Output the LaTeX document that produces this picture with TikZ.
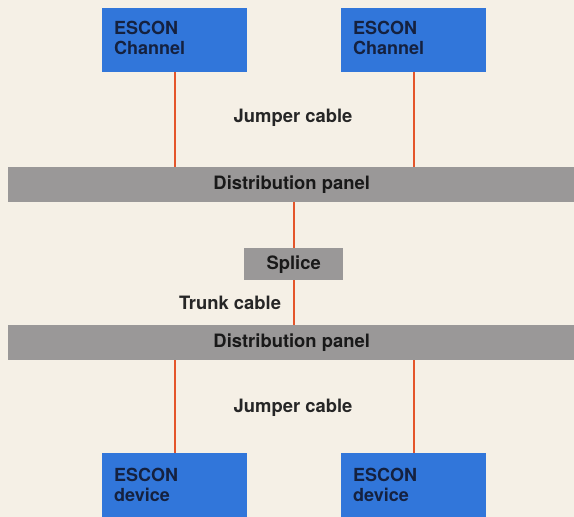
\documentclass[tikz,border=0pt]{standalone}
\usepackage{fontspec}
\setmainfont{TeX Gyre Heros}
\definecolor{bg}{HTML}{F5F0E6}
\definecolor{boxblue}{HTML}{3176DA}
\definecolor{panelgray}{HTML}{9A9898}
\definecolor{cablered}{HTML}{E4552B}
\definecolor{navy}{HTML}{15213F}
\tikzset{
  escon/.style={fill=boxblue, draw=none, anchor=north west, minimum width=145pt, minimum height=64pt, inner sep=0pt},
  esconlabel/.style={anchor=north west, inner sep=0pt, align=left, text=navy, font=\fontsize{18}{19.5}\selectfont\bfseries},
  panel/.style={fill=panelgray, draw=none, anchor=north west, minimum width=567pt, minimum height=35pt, inner sep=0pt, font=\fontsize{18.4}{20}\selectfont\bfseries, text=black!90},
  splicebox/.style={fill=panelgray, draw=none, anchor=north west, minimum width=99pt, minimum height=32pt, inner sep=0pt, font=\fontsize{18.4}{20}\selectfont\bfseries, text=black!90},
  cablelabel/.style={inner sep=0pt, font=\fontsize{18.4}{20}\selectfont\bfseries, text=black!85},
  cable/.style={draw=cablered, line width=1.6pt}
}
\begin{document}
\begin{tikzpicture}[x=1pt,y=-1pt]
\fill[bg] (0,0) rectangle (574,517);
\useasboundingbox (0,0) rectangle (574,517);
% top channels
\node[escon] (c1) at (102,8) {};
\node[escon] (c2) at (341,8) {};
\node[esconlabel] (c1t) at (114,21) {ESCON\\Channel};
\node[esconlabel] (c2t) at (353,21) {ESCON\\Channel};
% panels
\node[panel] (p1) at (8,167) {Distribution panel};
\node[panel] (p2) at (8,325) {Distribution panel};
% splice
\node[splicebox] (s) at (244,248) {Splice};
% bottom devices
\node[escon, minimum height=70pt] (d1) at (102,453) {};
\node[escon, minimum height=70pt] (d2) at (341,453) {};
\node[esconlabel] (d1t) at (114,468) {ESCON\\device};
\node[esconlabel] (d2t) at (353,468) {ESCON\\device};
% labels
\node[cablelabel] (j1) at (293,118) {Jumper cable};
\node[cablelabel] (tr) at (230,303) {Trunk cable};
\node[cablelabel] (j2) at (293,408) {Jumper cable};
% cables
\draw[cable] (c1.south) -- (c1.south |- p1.north);
\draw[cable] (c2.south) -- (c2.south |- p1.north);
\draw[cable] (s.north |- p1.south) -- (s.north);
\draw[cable] (s.south) -- (s.south |- p2.north);
\draw[cable] (d1.north |- p2.south) -- (d1.north);
\draw[cable] (d2.north |- p2.south) -- (d2.north);
\end{tikzpicture}
\end{document}
